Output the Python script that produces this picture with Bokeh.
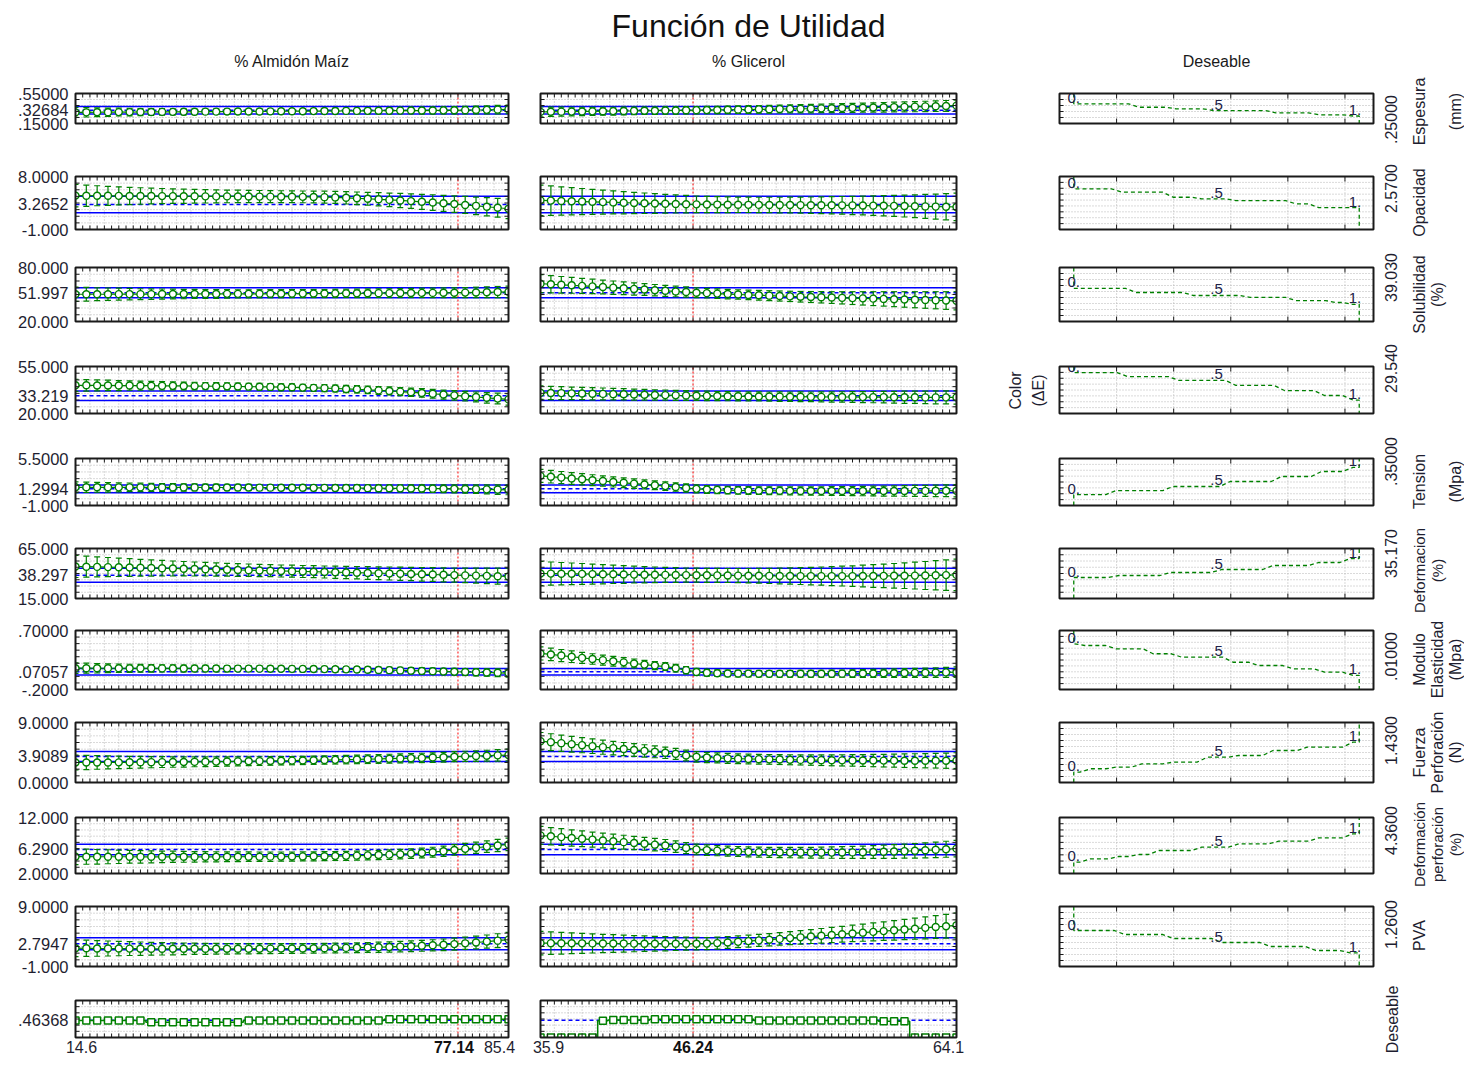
import math
import numpy as np
from bokeh.plotting import figure
from bokeh.models import Range1d
from bokeh.layouts import column, row
from bokeh.embed import file_html
from bokeh.resources import INLINE
from bokeh.core.properties import value

# ---------------------------------------------------------------- data
TITLE = "Función de Utilidad"
FACTOR_NAMES = ["% Almidón Maíz", "% Glicerol"]
DESIRE_NAME = "Deseable"

X1_RANGE = (14.6, 85.4)
X2_RANGE = (35.9, 64.1)
X1_CUR = 77.14
X2_CUR = 46.24
X1_LABELS = ["14.6", "77.14", "85.4"]
X2_LABELS = ["35.9", "46.24", "64.1"]
N_GRID = 41

Y_LO = [0.15, -1.0, 20.0, 20.0, -1.0, 15.0, -0.2, 0.0, 2.0, -1.0]
Y_HI = [0.55, 8.0, 80.0, 55.0, 5.5, 65.0, 0.7, 9.0, 12.0, 9.0]
CUR = [0.32684, 3.2652, 51.997, 33.219, 1.2994, 38.297, 0.07057, 3.9089, 6.2900, 2.7947]
CI_HALF = [0.049, 1.40, 5.5, 3.5, 0.55, 7.0, 0.05, 0.75, 0.95, 1.0]
TOP_LBL = [".55000", "8.0000", "80.000", "55.000", "5.5000", "65.000", ".70000", "9.0000", "12.000", "9.0000"]
MID_LBL = [".32684", "3.2652", "51.997", "33.219", "1.2994", "38.297", ".07057", "3.9089", "6.2900", "2.7947"]
BOT_LBL = [".15000", "-1.000", "20.000", "20.000", "-1.000", "15.000", "-.2000", "0.0000", "2.0000", "-1.000"]

# ---- column 1 (% Almidón Maíz) predicted values and CI half widths
P1_ESP = [0.298,0.299,0.300,0.301,0.302,0.302,0.303,0.304,0.305,0.305,
          0.306,0.307,0.308,0.308,0.309,0.310,0.311,0.311,0.312,0.313,
          0.314,0.314,0.315,0.316,0.317,0.318,0.318,0.319,0.320,0.321,
          0.322,0.323,0.323,0.324,0.325,0.326,0.328,0.330,0.332,0.335,
          0.338]
H1_ESP = [0.066,0.062,0.058,0.055,0.052,0.049,0.047,0.045,0.043,0.041,
          0.040,0.039,0.038,0.037,0.036,0.036,0.035,0.035,0.035,0.035,
          0.035,0.035,0.036,0.036,0.037,0.038,0.038,0.039,0.040,0.041,
          0.042,0.043,0.044,0.046,0.047,0.049,0.050,0.052,0.054,0.056,
          0.058]
P1_OPA = [4.75,4.74,4.73,4.72,4.71,4.70,4.69,4.68,4.67,4.66,
          4.65,4.64,4.63,4.62,4.62,4.61,4.60,4.59,4.58,4.57,
          4.56,4.54,4.52,4.49,4.45,4.38,4.30,4.22,4.13,4.03,
          3.93,3.82,3.70,3.58,3.45,3.32,3.17,3.02,2.86,2.69,
          2.52]
H1_OPA = [1.90,1.80,1.70,1.61,1.53,1.46,1.40,1.34,1.29,1.24,
          1.20,1.16,1.13,1.10,1.08,1.06,1.04,1.03,1.02,1.01,
          1.00,1.00,1.01,1.02,1.03,1.05,1.07,1.10,1.13,1.16,
          1.20,1.24,1.28,1.32,1.36,1.40,1.44,1.49,1.54,1.60,
          1.66]
P1_SOL = [50.3,50.3,50.3,50.3,50.4,50.4,50.4,50.4,50.5,50.5,
          50.5,50.6,50.6,50.6,50.7,50.7,50.8,50.8,50.9,50.9,
          51.0,51.0,51.1,51.1,51.2,51.3,51.3,51.4,51.5,51.5,
          51.6,51.7,51.8,51.8,51.9,52.0,52.1,52.3,52.5,52.7,
          52.9]
H1_SOL = [8.0,7.6,7.2,6.9,6.6,6.3,6.0,5.8,5.6,5.4,
          5.2,5.0,4.9,4.8,4.7,4.6,4.5,4.5,4.5,4.5,
          4.5,4.5,4.5,4.5,4.6,4.6,4.7,4.8,4.8,4.9,
          5.0,5.1,5.2,5.3,5.4,5.5,5.6,5.8,6.0,6.2,
          6.4]
P1_COL = [41.0,41.0,40.9,40.9,40.8,40.8,40.7,40.7,40.6,40.6,
          40.5,40.4,40.4,40.3,40.2,40.1,40.0,39.9,39.8,39.6,
          39.5,39.3,39.1,38.9,38.6,38.3,38.0,37.6,37.2,36.8,
          36.3,35.8,35.3,34.7,34.1,33.5,32.9,32.3,31.7,31.1,
          30.5]
H1_COL = [4.5,4.3,4.1,3.9,3.7,3.5,3.4,3.2,3.1,3.0,
          2.9,2.8,2.7,2.7,2.6,2.6,2.5,2.5,2.5,2.5,
          2.5,2.5,2.5,2.6,2.6,2.7,2.7,2.8,2.9,3.0,
          3.0,3.1,3.2,3.3,3.4,3.5,3.6,3.7,3.9,4.0,
          4.2]
P1_TEN = [1.52,1.52,1.52,1.52,1.51,1.51,1.51,1.51,1.50,1.50,
          1.50,1.50,1.49,1.49,1.49,1.48,1.48,1.47,1.47,1.46,
          1.46,1.45,1.44,1.44,1.43,1.42,1.41,1.40,1.39,1.38,
          1.37,1.36,1.35,1.33,1.32,1.30,1.28,1.26,1.23,1.20,
          1.17]
H1_TEN = [0.75,0.72,0.69,0.66,0.63,0.60,0.58,0.56,0.54,0.52,
          0.50,0.48,0.47,0.46,0.45,0.44,0.43,0.42,0.42,0.41,
          0.41,0.41,0.41,0.42,0.42,0.43,0.44,0.45,0.46,0.47,
          0.48,0.49,0.50,0.52,0.53,0.55,0.57,0.59,0.62,0.65,
          0.68]
P1_DEF = [47.0,46.8,46.6,46.4,46.2,46.0,45.7,45.5,45.3,45.0,
          44.8,44.5,44.3,44.0,43.8,43.5,43.3,43.0,42.8,42.5,
          42.3,42.0,41.8,41.5,41.3,41.0,40.8,40.5,40.3,40.0,
          39.8,39.5,39.2,39.0,38.7,38.4,38.1,37.9,37.6,37.3,
          37.0]
H1_DEF = [11.0,10.5,10.0,9.6,9.2,8.8,8.4,8.1,7.8,7.5,
          7.2,7.0,6.8,6.6,6.4,6.3,6.2,6.1,6.0,6.0,
          6.0,6.0,6.0,6.0,6.1,6.1,6.2,6.3,6.4,6.5,
          6.6,6.7,6.8,6.9,7.0,7.1,7.3,7.5,7.7,8.0,
          8.3]
P1_MOD = [0.125,0.125,0.124,0.124,0.124,0.123,0.123,0.123,0.122,0.122,
          0.121,0.121,0.120,0.120,0.119,0.119,0.118,0.118,0.117,0.116,
          0.115,0.114,0.113,0.111,0.109,0.107,0.104,0.101,0.098,0.095,
          0.091,0.087,0.083,0.079,0.075,0.071,0.067,0.063,0.059,0.055,
          0.051]
H1_MOD = [0.080,0.076,0.072,0.068,0.065,0.062,0.059,0.057,0.055,0.053,
          0.051,0.049,0.047,0.046,0.045,0.044,0.043,0.042,0.042,0.041,
          0.041,0.041,0.041,0.041,0.042,0.042,0.043,0.043,0.044,0.045,
          0.045,0.046,0.047,0.048,0.049,0.050,0.052,0.054,0.056,0.059,
          0.062]
P1_FUE = [3.00,3.00,3.01,3.01,3.02,3.03,3.04,3.05,3.06,3.07,
          3.08,3.10,3.11,3.13,3.15,3.17,3.19,3.21,3.23,3.26,
          3.28,3.31,3.34,3.37,3.40,3.43,3.46,3.50,3.53,3.57,
          3.61,3.65,3.69,3.74,3.79,3.87,3.92,3.97,4.02,4.07,
          4.12]
H1_FUE = [1.10,1.06,1.02,0.98,0.94,0.90,0.87,0.84,0.81,0.78,
          0.76,0.74,0.72,0.70,0.68,0.67,0.66,0.65,0.64,0.63,
          0.62,0.62,0.62,0.62,0.63,0.63,0.64,0.65,0.66,0.67,
          0.68,0.69,0.70,0.71,0.73,0.75,0.77,0.79,0.82,0.85,
          0.88]
P1_DFP = [5.00,5.00,4.99,4.99,4.99,4.99,4.98,4.98,4.98,4.98,
          4.98,4.98,4.98,4.98,4.99,4.99,5.00,5.00,5.01,5.02,
          5.03,5.05,5.07,5.09,5.12,5.15,5.19,5.24,5.30,5.37,
          5.45,5.55,5.66,5.80,5.98,6.20,6.40,6.60,6.80,7.00,
          7.20]
H1_DFP = [1.40,1.35,1.30,1.25,1.20,1.15,1.11,1.07,1.03,1.00,
          0.97,0.94,0.92,0.90,0.88,0.86,0.85,0.84,0.83,0.82,
          0.81,0.80,0.80,0.80,0.80,0.81,0.81,0.82,0.83,0.84,
          0.85,0.86,0.87,0.89,0.91,0.94,0.97,1.00,1.04,1.08,
          1.12]
P1_PVA = [2.05,2.03,2.01,2.00,1.99,1.98,1.97,1.96,1.95,1.95,
          1.95,1.95,1.95,1.95,1.95,1.96,1.96,1.97,1.98,1.99,
          2.00,2.01,2.03,2.05,2.07,2.10,2.13,2.17,2.21,2.26,
          2.32,2.38,2.45,2.53,2.62,2.73,2.86,3.00,3.15,3.31,
          3.48]
H1_PVA = [1.40,1.35,1.30,1.25,1.20,1.15,1.11,1.07,1.03,1.00,
          0.97,0.94,0.92,0.90,0.88,0.86,0.85,0.84,0.83,0.82,
          0.81,0.80,0.80,0.80,0.81,0.81,0.82,0.83,0.84,0.86,
          0.87,0.89,0.91,0.93,0.96,0.99,1.02,1.06,1.10,1.15,
          1.20]

# ---- column 2 (% Glicerol)
P2_ESP = [0.305,0.306,0.308,0.309,0.311,0.312,0.314,0.315,0.317,0.318,
          0.320,0.321,0.323,0.324,0.326,0.328,0.329,0.331,0.333,0.335,
          0.337,0.339,0.341,0.343,0.345,0.347,0.349,0.352,0.354,0.356,
          0.359,0.361,0.364,0.366,0.369,0.372,0.375,0.378,0.381,0.384,
          0.388]
H2_ESP = [0.065,0.062,0.060,0.058,0.056,0.054,0.053,0.052,0.051,0.050,
          0.049,0.049,0.048,0.048,0.048,0.049,0.049,0.049,0.050,0.050,
          0.051,0.051,0.052,0.053,0.054,0.055,0.056,0.057,0.058,0.059,
          0.060,0.061,0.062,0.064,0.065,0.066,0.068,0.069,0.071,0.073,
          0.075]
P2_OPA = [3.95,3.90,3.85,3.80,3.75,3.70,3.65,3.60,3.55,3.50,
          3.46,3.42,3.38,3.34,3.30,3.27,3.25,3.23,3.21,3.20,
          3.19,3.18,3.17,3.16,3.15,3.14,3.13,3.12,3.11,3.10,
          3.09,3.07,3.05,3.03,3.01,2.98,2.95,2.92,2.89,2.86,
          2.83]
H2_OPA = [2.60,2.50,2.40,2.30,2.21,2.12,2.04,1.96,1.88,1.81,
          1.74,1.67,1.60,1.54,1.48,1.42,1.38,1.35,1.33,1.31,
          1.30,1.30,1.31,1.32,1.34,1.36,1.39,1.42,1.46,1.50,
          1.55,1.60,1.66,1.72,1.79,1.86,1.94,2.03,2.12,2.22,
          2.33]
P2_SOL = [62.0,61.4,60.8,60.2,59.6,59.0,58.3,57.6,56.9,56.2,
          55.5,54.8,54.1,53.4,52.7,52.0,51.5,51.0,50.5,50.0,
          49.5,49.1,48.7,48.3,47.9,47.5,47.2,46.9,46.6,46.3,
          46.0,45.7,45.4,45.1,44.8,44.5,44.2,43.9,43.6,43.3,
          43.0]
H2_SOL = [10.0,9.6,9.2,8.8,8.4,8.0,7.7,7.4,7.1,6.8,
          6.5,6.3,6.1,5.9,5.7,5.5,5.4,5.3,5.3,5.3,
          5.3,5.4,5.5,5.6,5.7,5.9,6.1,6.3,6.5,6.8,
          7.1,7.4,7.7,8.0,8.3,8.6,8.9,9.2,9.5,9.8,
          10.1]
P2_COL = [35.5,35.3,35.2,35.0,34.9,34.7,34.6,34.4,34.3,34.1,
          34.0,33.8,33.7,33.5,33.4,33.2,33.1,33.0,32.9,32.8,
          32.7,32.7,32.6,32.6,32.5,32.5,32.4,32.4,32.3,32.3,
          32.3,32.2,32.2,32.2,32.1,32.1,32.1,32.0,32.0,32.0,
          32.0]
H2_COL = [5.0,4.9,4.8,4.7,4.6,4.5,4.4,4.3,4.2,4.1,
          4.0,3.9,3.8,3.7,3.6,3.5,3.5,3.4,3.4,3.4,
          3.4,3.4,3.4,3.5,3.5,3.6,3.6,3.7,3.8,3.9,
          4.0,4.1,4.2,4.3,4.4,4.5,4.6,4.7,4.8,4.9,
          5.0]
P2_TEN = [3.10,2.98,2.86,2.74,2.62,2.50,2.38,2.26,2.14,2.02,
          1.91,1.80,1.68,1.55,1.42,1.30,1.22,1.16,1.12,1.09,
          1.07,1.05,1.04,1.03,1.02,1.01,1.01,1.00,1.00,1.00,
          1.00,1.00,1.00,1.00,1.01,1.01,1.02,1.02,1.03,1.04,
          1.05]
H2_TEN = [0.90,0.87,0.84,0.81,0.78,0.75,0.72,0.70,0.67,0.65,
          0.63,0.61,0.59,0.58,0.56,0.55,0.54,0.53,0.53,0.53,
          0.53,0.53,0.54,0.54,0.55,0.56,0.57,0.58,0.60,0.61,
          0.63,0.65,0.67,0.69,0.71,0.73,0.75,0.77,0.79,0.82,
          0.85]
P2_DEF = [40.0,39.9,39.8,39.7,39.6,39.4,39.3,39.2,39.0,38.9,
          38.8,38.7,38.6,38.5,38.4,38.3,38.2,38.1,38.0,37.9,
          37.8,37.7,37.6,37.5,37.5,37.4,37.4,37.4,37.4,37.4,
          37.4,37.5,37.5,37.6,37.7,37.8,37.9,38.0,38.2,38.4,
          38.6]
H2_DEF = [12.0,11.6,11.2,10.8,10.4,10.0,9.6,9.2,8.8,8.4,
          8.1,7.8,7.5,7.3,7.1,7.0,7.0,7.0,7.0,7.1,
          7.2,7.4,7.6,7.8,8.1,8.4,8.7,9.1,9.5,9.9,
          10.3,10.8,11.3,11.8,12.3,12.8,13.4,14.0,14.6,15.2,
          15.8]
P2_MOD = [0.350,0.335,0.318,0.300,0.282,0.265,0.248,0.231,0.214,0.197,
          0.180,0.165,0.150,0.125,0.095,0.068,0.055,0.049,0.045,0.043,
          0.042,0.041,0.040,0.040,0.040,0.040,0.040,0.041,0.041,0.042,
          0.043,0.044,0.045,0.047,0.049,0.051,0.053,0.055,0.058,0.061,
          0.064]
H2_MOD = [0.100,0.096,0.092,0.088,0.084,0.080,0.077,0.074,0.071,0.068,
          0.065,0.062,0.060,0.058,0.056,0.054,0.052,0.051,0.050,0.049,
          0.049,0.049,0.049,0.050,0.050,0.051,0.052,0.053,0.054,0.055,
          0.057,0.059,0.061,0.063,0.065,0.067,0.069,0.071,0.074,0.077,
          0.080]
P2_FUE = [6.20,6.05,5.90,5.75,5.60,5.45,5.30,5.16,5.02,4.88,
          4.74,4.60,4.46,4.30,4.05,3.85,3.75,3.68,3.62,3.57,
          3.53,3.50,3.47,3.44,3.41,3.39,3.37,3.35,3.33,3.32,
          3.31,3.30,3.29,3.28,3.28,3.27,3.27,3.27,3.27,3.27,
          3.28]
H2_FUE = [1.30,1.26,1.22,1.18,1.14,1.10,1.06,1.02,0.98,0.95,
          0.92,0.89,0.86,0.83,0.80,0.78,0.76,0.75,0.74,0.73,
          0.73,0.73,0.73,0.74,0.75,0.76,0.78,0.80,0.82,0.84,
          0.86,0.89,0.92,0.95,0.98,1.01,1.04,1.07,1.10,1.14,
          1.18]
P2_DFP = [8.80,8.65,8.50,8.35,8.20,8.05,7.90,7.75,7.60,7.45,
          7.30,7.15,7.00,6.80,6.55,6.30,6.18,6.08,6.00,5.93,
          5.87,5.82,5.78,5.75,5.73,5.72,5.72,5.72,5.73,5.75,
          5.77,5.80,5.84,5.88,5.93,5.99,6.06,6.14,6.23,6.33,
          6.44]
H2_DFP = [1.60,1.55,1.50,1.45,1.40,1.35,1.31,1.27,1.23,1.19,
          1.15,1.11,1.07,1.03,0.99,0.95,0.93,0.91,0.90,0.89,
          0.89,0.89,0.90,0.91,0.92,0.94,0.96,0.98,1.01,1.04,
          1.07,1.10,1.14,1.18,1.22,1.26,1.30,1.34,1.38,1.43,
          1.48]
P2_PVA = [2.90,2.89,2.88,2.87,2.86,2.85,2.84,2.83,2.82,2.81,
          2.80,2.80,2.80,2.80,2.80,2.80,2.82,2.90,3.00,3.11,
          3.23,3.35,3.47,3.60,3.73,3.86,3.99,4.12,4.25,4.38,
          4.51,4.64,4.77,4.90,5.03,5.16,5.30,5.44,5.58,5.72,
          5.86]
H2_PVA = [1.95,1.88,1.81,1.74,1.67,1.60,1.53,1.47,1.41,1.35,
          1.29,1.23,1.18,1.13,1.08,1.04,1.01,0.99,0.98,0.98,
          0.99,1.00,1.02,1.05,1.08,1.12,1.16,1.21,1.26,1.31,
          1.37,1.43,1.49,1.55,1.62,1.69,1.76,1.83,1.90,1.98,
          2.06]

# ---- overall desirability profiles
DES_CUR = 0.46368
DES_LBL = ".46368"
DES1 = [0.46,0.46,0.46,0.46,0.46,0.46,0.46,0.415,0.415,0.415,
        0.415,0.415,0.415,0.415,0.415,0.415,0.46,0.46,0.46,0.46,
        0.46,0.46,0.46,0.46,0.46,0.46,0.46,0.46,0.46,0.49,
        0.49,0.49,0.49,0.49,0.49,0.49,0.49,0.49,0.49,0.49,
        0.49]
DES2 = [0.0,0.0,0.0,0.0,0.0,0.0,0.45,0.475,0.475,0.475,
        0.475,0.49,0.49,0.49,0.49,0.49,0.49,0.49,0.49,0.49,
        0.49,0.46,0.46,0.46,0.46,0.46,0.46,0.46,0.46,0.46,
        0.46,0.46,0.46,0.44,0.44,0.44,0.0,0.0,0.0,0.0,
        0.0]

# ---- individual desirability functions (desirability breakpoints -> response level)
D_BREAKS = [
    [0, 0.21, 0.34, 0.47, 0.69, 0.84, 0.96, 1.0],
    [0, 0.15, 0.33, 0.43, 0.55, 0.76, 0.84, 1.0],
    [0, 0.20, 0.40, 0.60, 0.76, 0.90, 0.96, 1.0],
    [0, 0.17, 0.35, 0.55, 0.72, 0.86, 0.96, 1.0],
    [0, 0.13, 0.33, 0.53, 0.71, 0.85, 0.96, 1.0],
    [0, 0.14, 0.32, 0.50, 0.68, 0.84, 0.95, 1.0],
    [0, 0.02, 0.13, 0.26, 0.36, 0.54, 0.63, 0.75, 0.86, 0.96, 1.0],
    [0, 0.04, 0.13, 0.22, 0.33, 0.45, 0.56, 0.68, 0.80, 0.96, 1.0],
    [0, 0.04, 0.14, 0.21, 0.28, 0.43, 0.56, 0.70, 0.84, 0.96, 1.0],
    [0, 0.16, 0.33, 0.50, 0.67, 0.83, 0.95, 1.0],
]
D_LEVELS = [
    [0.413, 0.367, 0.346, 0.323, 0.293, 0.266, 0.25],
    [5.91, 5.33, 4.48, 4.21, 3.92, 3.36, 2.70],
    [56.7, 52.2, 48.9, 46.7, 43.3, 41.1, 39.03],
    [50.5, 47.5, 44.6, 40.9, 37.1, 33.4, 30.0],
    [0.50, 1.07, 1.63, 2.32, 3.01, 3.70, 4.26],
    [36.0, 38.0, 41.0, 44.0, 48.0, 51.0, 55.0],
    [0.497, 0.471, 0.421, 0.345, 0.293, 0.216, 0.166, 0.116, 0.064, 0.014],
    [1.55, 2.06, 2.30, 2.80, 3.05, 3.80, 4.05, 4.80, 5.30, 6.05],
    [4.02, 4.62, 5.04, 5.39, 6.11, 6.70, 7.30, 7.77, 8.37, 9.09],
    [5.0, 4.33, 3.67, 3.0, 2.33, 1.67, 1.26],
]
D_XTICKS = [0.15, 0.35, 0.55, 0.75, 0.95]
D_POINT_LBL = ["0.", ".5", "1."]
D_LIMIT_LBL = [".25000", "2.5700", "39.030", "29.540", ".35000", "35.170", ".01000", "1.4300", "4.3600", "1.2600"]
RESP_NAME_LINES = [["Espesura", "", "(mm)"], ["Opacidad"], ["Solubilidad", "(%)"], ["Color", "(ΔE)"],
                   ["Tension", "", "(Mpa)"], ["Deformacion", "(%)"], ["Modulo", "Elasticidad", "(Mpa)"],
                   ["Fuerza", "Perforación", "(N)"], ["Deformación", "perforación", "(%)"], ["PVA"]]

P1 = [P1_ESP, P1_OPA, P1_SOL, P1_COL, P1_TEN, P1_DEF, P1_MOD, P1_FUE, P1_DFP, P1_PVA]
H1 = [H1_ESP, H1_OPA, H1_SOL, H1_COL, H1_TEN, H1_DEF, H1_MOD, H1_FUE, H1_DFP, H1_PVA]
P2 = [P2_ESP, P2_OPA, P2_SOL, P2_COL, P2_TEN, P2_DEF, P2_MOD, P2_FUE, P2_DFP, P2_PVA]
H2 = [H2_ESP, H2_OPA, H2_SOL, H2_COL, H2_TEN, H2_DEF, H2_MOD, H2_FUE, H2_DFP, H2_PVA]

# ---------------------------------------------------------------- layout / style
FONT = "Liberation Sans"
INK = "#1a1a1a"
LBL = "#1e1e30"
NAVY = "#222248"
GRIDC = "#b4b4b4"
GREEN = "#008000"
BLUE = "#0000ff"
RED = "#ff0000"
TOTAL_W = 1464

# page px: (cell left, cell right, panel left, panel right)
COLS = [(0, 524, 75, 508), (524, 975, 540, 956), (975, 1464, 1059, 1373)]
# page px: (cell top, cell bottom, panel top, panel bottom)
HEADER_H = 74
ROWS = [(74, 145, 93, 123), (145, 248, 176, 229), (248, 343, 267, 321), (343, 435, 366, 413),
        (435, 526, 458, 505), (526, 614, 548, 598), (614, 705, 630, 689), (705, 800, 722, 782),
        (800, 889, 817, 873), (889, 984, 906, 966), (984, 1054, 1000, 1037)]
X_LABEL_Y = 1046
D_XR = (-0.05, 1.05)
D_STEP_SLANT = 0.018
LIMIT_LBL_Y = [119, 188, 277, 368, 461, 553, 656, 740, 830, 924]
NAME_Y = [111, 202, 294, 390, 481, 570, 659, 752, 844, 935]
NAME_SIZE = ["16px", "16px", "16px", "16px", "16px", "15px", "16px", "16px", "15px", "16px"]
NAME_X = [1419, 1437, 1455]
COLOR_NAME_X = [1015, 1038]
LIMIT_X = 1390


class Cell:
    def __init__(self, col, rw, xr, yr):
        fl, fr, xl, xh = COLS[col]
        rt, rb, yt, yb = ROWS[rw]
        self.xr, self.yr = xr, yr
        self.ux = (xr[1] - xr[0]) / (xh - xl)
        self.uy = (yr[1] - yr[0]) / (yb - yt)
        self.x0 = xr[0] - (xl - fl) * self.ux
        self.x1 = xr[1] + (fr - xh) * self.ux
        self.y0 = yr[0] - (rb - yb) * self.uy
        self.y1 = yr[1] + (yt - rt) * self.uy
        self.xl, self.yt = xl, yt
        p = figure(width=fr - fl, height=rb - rt,
                   x_range=Range1d(self.x0, self.x1), y_range=Range1d(self.y0, self.y1),
                   min_border=0, x_axis_type=None, y_axis_type=None,
                   output_backend="svg", toolbar_location=None)
        p.outline_line_color = None
        p.background_fill_color = "white"
        p.border_fill_color = "white"
        self.p = p

    def fx(self, px):
        return self.xr[0] + (px - self.xl) * self.ux

    def fy(self, py):
        return self.yr[1] - (py - self.yt) * self.uy

    def grid(self, gx, gy):
        (a, b), (c, d) = self.xr, self.yr
        gx, gy = list(gx), list(gy)
        if gx:
            self.p.segment(gx, [c] * len(gx), gx, [d] * len(gx), line_color=GRIDC, line_dash="1 2", line_width=1)
        if gy:
            self.p.segment([a] * len(gy), gy, [b] * len(gy), gy, line_color=GRIDC, line_dash="1 2", line_width=1)

    def mask(self):
        (a, b), (c, d) = self.xr, self.yr
        self.p.quad(left=[self.x0, b, a, a], right=[a, self.x1, b, b],
                    bottom=[self.y0, self.y0, d, self.y0], top=[self.y1, self.y1, self.y1, c],
                    fill_color="white", line_color=None)

    def frame(self, tx_top, tx_bot, ty_left, ty_right, tlen=4, tx_len=None):
        (a, b), (c, d) = self.xr, self.yr
        p = self.p
        lx = (tx_len or tlen) * self.uy
        ly = tlen * self.ux
        for ticks, base, sgn in ((tx_top, d, -1), (tx_bot, c, 1)):
            t = list(ticks)
            if t:
                p.segment(t, [base] * len(t), t, [base + sgn * lx] * len(t), line_color=INK, line_width=1)
        for ticks, base, sgn in ((ty_left, a, 1), (ty_right, b, -1)):
            t = list(ticks)
            if t:
                p.segment([base] * len(t), t, [base + sgn * ly] * len(t), t, line_color=INK, line_width=1)
        p.quad(left=[a], right=[b], bottom=[c], top=[d], fill_color=None, line_color=INK, line_width=2)


def frac_ticks(lo, hi, n):
    return [lo + (hi - lo) * k / n for k in range(1, n)]


def n_y(rw, step):
    rt, rb, yt, yb = ROWS[rw]
    return max(4, round((yb - yt) / step))


def response_panel(col, r, pred, hw, xr, xcur, with_labels):
    lo, hi = Y_LO[r], Y_HI[r]
    c = Cell(col, r, xr, (lo, hi))
    p = c.p
    ym = frac_ticks(lo, hi, n_y(r, 6.5))
    c.grid(frac_ticks(xr[0], xr[1], 30), ym)
    xs = np.linspace(xr[0], xr[1], N_GRID)
    pred = np.array(pred)
    hw = np.array(hw)
    p.line([xcur, xcur], [lo, hi], color=RED, line_dash="2 2", line_width=1)
    for yy in (CUR[r] - CI_HALF[r], CUR[r] + CI_HALF[r]):
        p.line([xr[0], xr[1]], [yy, yy], color=BLUE, line_width=1.5)
    p.line([xr[0], xr[1]], [CUR[r], CUR[r]], color=BLUE, line_dash="4 3", line_width=1.5)
    p.segment(xs, pred - hw, xs, pred + hw, color=GREEN, line_width=1.2)
    p.scatter(xs, pred + hw, marker="dash", size=6, color=GREEN, line_width=1.2)
    p.scatter(xs, pred - hw, marker="dash", size=6, color=GREEN, line_width=1.2)
    p.line(xs, pred, color=GREEN, line_width=1.2)
    p.scatter(xs, pred, marker="circle", size=7, line_color=GREEN, fill_color="white", line_width=1.4)
    c.mask()
    xm = frac_ticks(xr[0], xr[1], 60)
    c.frame(xm, xm, ym, ym)
    if with_labels:
        p.text(x=[xr[0]] * 3, y=[lo, CUR[r], hi], text=[BOT_LBL[r], MID_LBL[r], TOP_LBL[r]],
               x_offset=-7, text_align="right", text_baseline="middle",
               text_font=value(FONT), text_font_size="16.5px", text_color=LBL)
    return p


def des_panel(col, des, xr, xcur, xlabels):
    rw = 10
    c = Cell(col, rw, xr, (0.0, 1.0))
    p = c.p
    ym = frac_ticks(0.0, 1.0, n_y(rw, 6.5))
    c.grid(frac_ticks(xr[0], xr[1], 30), ym)
    xs = np.linspace(xr[0], xr[1], N_GRID)
    p.line([xcur, xcur], [0, 1], color=RED, line_dash="2 2", line_width=1)
    p.line([xr[0], xr[1]], [DES_CUR, DES_CUR], color=BLUE, line_dash="4 3", line_width=1.5)
    p.step(xs, des, mode="center", color=GREEN, line_width=1.5)
    p.scatter(xs, des, marker="square", size=7, line_color=GREEN, fill_color="white", line_width=1.5)
    c.mask()
    xm = frac_ticks(xr[0], xr[1], 60)
    c.frame(xm, xm, ym, ym)
    if col == 0:
        p.text(x=[xr[0]], y=[DES_CUR], text=[DES_LBL], x_offset=-7, text_align="right",
               text_baseline="middle", text_font=value(FONT), text_font_size="16.5px", text_color=LBL)
    ylab = c.fy(X_LABEL_Y)
    offs = [6, -9] if col == 0 else [8, -8]
    p.text(x=[xr[0], xr[1]], y=[ylab, ylab], text=[xlabels[0], xlabels[2]], x_offset=offs,
           text_align="center", text_baseline="middle", text_font=value(FONT),
           text_font_size="16px", text_color=LBL)
    p.text(x=[xcur], y=[ylab], text=[xlabels[1]], x_offset=-4 if col == 0 else 0,
           text_align="center", text_baseline="middle", text_font=value(FONT),
           text_font_size="16px", text_font_style="bold", text_color="#111111")
    return p


def desire_panel(r):
    lo, hi = Y_LO[r], Y_HI[r]
    c = Cell(2, r, D_XR, (lo, hi))
    p = c.p
    ym = frac_ticks(lo, hi, n_y(r, 6.0))
    c.grid(D_XTICKS, ym)
    br = D_BREAKS[r]
    lv = D_LEVELS[r]
    dec = lv[0] > lv[-1]
    s = D_STEP_SLANT
    xs = [0.0, 0.0]
    ys = [hi if dec else lo, lv[0]]
    for k in range(1, len(lv)):
        xs += [br[k] - s, br[k] + s]
        ys += [lv[k - 1], lv[k]]
    xs += [1.0, 1.0]
    ys += [lv[-1], lo if dec else hi]
    p.line(xs, ys, color=GREEN, line_dash="4 3", line_width=1.3)
    mid = lv[max(k for k in range(len(lv)) if br[k] <= 0.5)]
    p.text(x=[0.0, 0.5, 0.985], y=[lv[0], mid, lv[-1]], text=D_POINT_LBL,
           text_align="center", text_baseline="bottom", y_offset=-1,
           text_font=value(FONT), text_font_size="15px", text_color=NAVY)
    c.mask()
    c.frame(D_XTICKS, D_XTICKS, ym, [], tlen=4, tx_len=5)
    p.text(x=[c.fx(LIMIT_X)], y=[c.fy(LIMIT_LBL_Y[r])], text=[D_LIMIT_LBL[r]], angle=math.pi / 2,
           text_align="center", text_baseline="middle", text_font=value(FONT),
           text_font_size="16px", text_color=LBL)
    xs_names = COLOR_NAME_X if r == 3 else NAME_X
    nx, ny_, nt = [], [], []
    for k, line in enumerate(RESP_NAME_LINES[r]):
        if line:
            nx.append(c.fx(xs_names[k]))
            ny_.append(c.fy(NAME_Y[r]))
            nt.append(line)
    p.text(x=nx, y=ny_, text=nt, angle=math.pi / 2, text_align="center", text_baseline="middle",
           text_font=value(FONT), text_font_size=NAME_SIZE[r], text_color=LBL)
    return p


# ---------------------------------------------------------------- header
hdr = figure(width=TOTAL_W, height=HEADER_H, x_range=Range1d(0, TOTAL_W), y_range=Range1d(HEADER_H, 0),
             min_border=0, x_axis_type=None, y_axis_type=None,
             output_backend="svg", toolbar_location=None)
hdr.outline_line_color = None
hdr.border_fill_color = "white"
hdr.background_fill_color = "white"
hdr.text(x=[748], y=[25], text=[TITLE], text_align="center", text_baseline="middle",
         text_font=value(FONT), text_font_size="32px", text_color="#111111")
hdr_x = [(COLS[k][2] + COLS[k][3]) / 2 for k in range(3)]
hdr.text(x=hdr_x, y=[61, 61, 61], text=FACTOR_NAMES + [DESIRE_NAME], text_align="center",
         text_baseline="middle", text_font=value(FONT), text_font_size="16px", text_color="#1a1a1a")

rows = [hdr]
for r in range(10):
    f1 = response_panel(0, r, P1[r], H1[r], X1_RANGE, X1_CUR, True)
    f2 = response_panel(1, r, P2[r], H2[r], X2_RANGE, X2_CUR, False)
    f3 = desire_panel(r)
    rows.append(row(f1, f2, f3))

d1 = des_panel(0, DES1, X1_RANGE, X1_CUR, X1_LABELS)
d2 = des_panel(1, DES2, X2_RANGE, X2_CUR, X2_LABELS)
fl, fr = COLS[2][0], COLS[2][1]
rt, rb = ROWS[10][0], ROWS[10][1]
blank = figure(width=fr - fl, height=rb - rt, x_range=Range1d(fl, fr), y_range=Range1d(rb, rt),
               min_border=0, x_axis_type=None, y_axis_type=None,
               output_backend="svg", toolbar_location=None)
blank.outline_line_color = None
blank.border_fill_color = "white"
blank.background_fill_color = "white"
blank.text(x=[1392], y=[1019], text=[DESIRE_NAME], angle=math.pi / 2, text_align="center",
           text_baseline="middle", text_font=value(FONT), text_font_size="16px", text_color=LBL)
rows.append(row(d1, d2, blank))

layout = column(*rows)
open("out.html", "w").write(file_html(layout, INLINE, title="Función de Utilidad"))
